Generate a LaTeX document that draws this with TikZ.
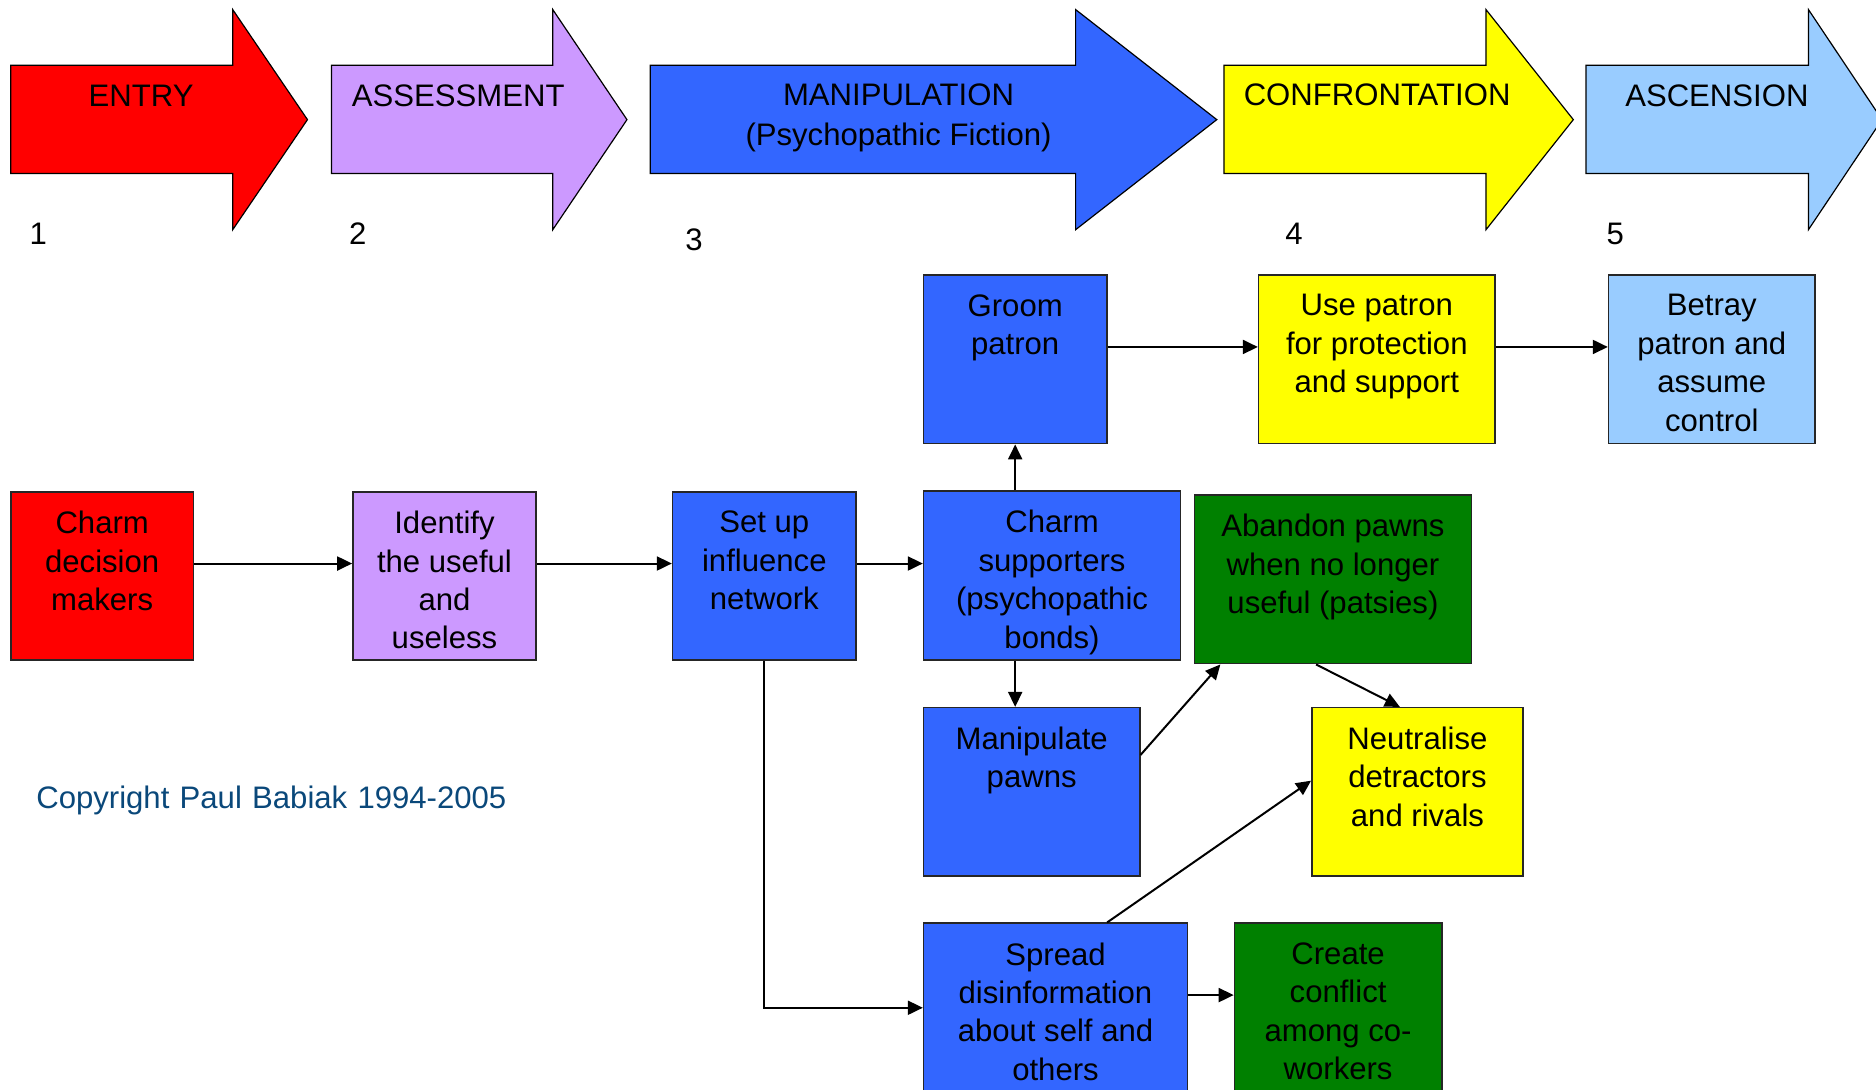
\documentclass[tikz,border=0pt]{standalone}
\usepackage{fontspec}
\setmainfont{Liberation Sans}
\usetikzlibrary{fit,arrows.meta}
\definecolor{cRed}{HTML}{FF0000}
\definecolor{cLav}{HTML}{CC99FF}
\definecolor{cBlue}{HTML}{3366FF}
\definecolor{cYel}{HTML}{FFFF00}
\definecolor{cLblue}{HTML}{99CCFF}
\definecolor{cGreen}{HTML}{008000}
\definecolor{cCopy}{RGB}{10,72,122}
\newcommand\bigarrow[4]{%
  \filldraw[big, fill=#4] (#1,54.5) -- (#2,54.5) -- (#2,8) -- (#3,100) -- (#2,192) -- (#2,145) -- (#1,145) -- cycle;}
\begin{document}
\begin{tikzpicture}[x=0.6pt,y=-0.6pt,
  box/.style={draw=black!85, line width=0.8pt, inner sep=0pt, rectangle},
  txt/.style={font=\fontsize{15.6pt}{19.26pt}\selectfont, align=center, inner sep=0pt, anchor=north, execute at begin node=\strut},
  conn/.style={line width=1pt, -{Triangle[length=7.5pt,width=7pt]}},
  big/.style={draw=black, line width=0.6pt},
  ]
\useasboundingbox (0,0) rectangle (1568,911);
\clip (0,0) rectangle (1568,911);

% phase arrows
\bigarrow{9}{194.5}{257}{cRed}
\bigarrow{277}{462}{524}{cLav}
\bigarrow{543.5}{899}{1017}{cBlue}
\bigarrow{1023}{1242}{1315}{cYel}
\bigarrow{1325.6}{1511.5}{1573}{cLblue}

\node[txt] (lEntry) at (118,66) {ENTRY};
\node[txt] (lAssess) at (383,66) {ASSESSMENT};
\node[txt, font=\fontsize{15.6pt}{19.8pt}\selectfont] (lManip) at (751,70) {MANIPULATION\\(Psychopathic Fiction)};
\node[txt] (lConf) at (1151,65) {CONFRONTATION};
\node[txt] (lAsc) at (1435,66) {ASCENSION};

\node[txt] (n1) at (32,181.5) {1};
\node[txt] (n2) at (299,181.5) {2};
\node[txt] (n3) at (580,186.5) {3};
\node[txt] (n4) at (1081.5,181.5) {4};
\node[txt] (n5) at (1350,181.5) {5};

% boxes
\node[box, fill=cRed,   fit={(9,411)(161.8,551.7)}] (cdm) {};
\node[box, fill=cLav,   fit={(295,411)(448,551.7)}] (iden) {};
\node[box, fill=cBlue,  fit={(562.2,411)(715.5,551.7)}] (su) {};
\node[box, fill=cBlue,  fit={(772,410.4)(986.6,551.4)}] (cs) {};
\node[box, fill=cBlue,  fit={(772,230)(925,370.8)}] (gp) {};
\node[box, fill=cYel,   fit={(1052,230)(1249.5,370.8)}] (up) {};
\node[box, fill=cLblue, fit={(1344.5,230)(1517,370.8)}] (bp) {};
\node[box, fill=cGreen, fit={(998.3,413.7)(1229.9,554.7)}] (ab) {};
\node[box, fill=cBlue,  fit={(772,591.5)(952.6,732)}] (mp) {};
\node[box, fill=cYel,   fit={(1096.5,591.5)(1273,732)}] (nd) {};
\node[box, fill=cBlue,  fit={(772,771.7)(992.4,960)}] (sp) {};
\node[box, fill=cGreen, fit={(1031.8,771.7)(1205,960)}] (cc) {};

\node[txt] (cdm-t) at ([yshift=-9.9pt]cdm.north) {Charm\\decision\\makers};
\node[txt] (iden-t) at ([yshift=-9.9pt]iden.north) {Identify\\the useful\\and\\useless};
\node[txt] (su-t) at ([yshift=-9.9pt]su.north) {Set up\\influence\\network};
\node[txt] (cs-t) at ([yshift=-9.9pt]cs.north) {Charm\\supporters\\(psychopathic\\bonds)};
\node[txt] (gp-t) at ([yshift=-9.9pt]gp.north) {Groom\\patron};
\node[txt] (up-t) at ([yshift=-9.9pt]up.north) {Use patron\\for protection\\and support};
\node[txt] (bp-t) at ([yshift=-9.9pt]bp.north) {Betray\\patron and\\assume\\control};
\node[txt] (ab-t) at ([yshift=-9.9pt]ab.north) {Abandon pawns\\when no longer\\useful (patsies)};
\node[txt] (mp-t) at ([yshift=-9.9pt]mp.north) {Manipulate\\pawns};
\node[txt] (nd-t) at ([yshift=-9.9pt]nd.north) {Neutralise\\detractors\\and rivals};
\node[txt] (sp-t) at ([yshift=-9.9pt]sp.north) {Spread\\disinformation\\about self and\\others};
\node[txt] (cc-t) at ([yshift=-9.9pt]cc.north) {Create\\conflict\\among co-\\workers};

\node[font=\fontsize{15.6pt}{19.26pt}\selectfont, text=cCopy, anchor=base west, inner sep=0pt] (copy) at (30,675.6) {Copyright\hspace{0.33em}Paul\hspace{0.33em}Babiak\hspace{0.33em}1994-2005};

% connectors
\coordinate (yA) at (0,471);
\coordinate (yB) at (0,290);
\coordinate (yC) at (0,631);
\coordinate (xC) at (1020,0);
\coordinate (xD1) at (1100,0);
\coordinate (xD2) at (1170,0);
\coordinate (xE) at (925.3,0);
\coordinate (yE) at (0,652.5);
\coordinate (yF) at (0,842.3);
\coordinate (yG) at (0,831.7);

\draw[conn] (cdm.east |- yA) -- (iden.west |- yA);
\draw[conn] (iden.east |- yA) -- (su.west |- yA);
\draw[conn] (su.east |- yA) -- (cs.west |- yA);
\draw[conn] (gp.south |- cs.north) -- (gp.south);
\draw[conn] (gp.east |- yB) -- (up.west |- yB);
\draw[conn] (up.east |- yB) -- (bp.west |- yB);
\draw[conn] (gp.south |- cs.south) -- (gp.south |- mp.north);
\draw[conn] (mp.east |- yC) -- (xC |- ab.south);
\draw[conn] (xD1 |- ab.south) -- (xD2 |- nd.north);
\draw[conn] (xE |- sp.north) -- (nd.west |- yE);
\draw[conn] (su.south) |- (sp.west |- yF);
\draw[conn] (sp.east |- yG) -- (cc.west |- yG);
\end{tikzpicture}
\end{document}
